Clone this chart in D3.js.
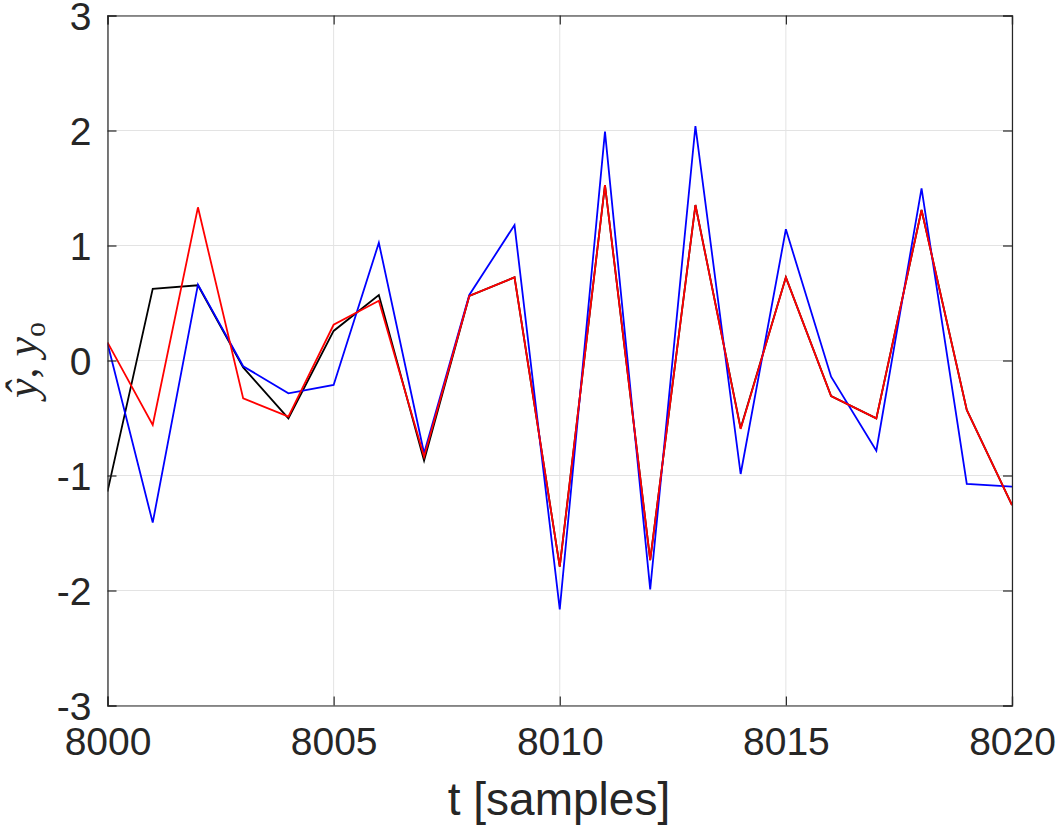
<!DOCTYPE html>
<html><head><meta charset="utf-8">
<script src="https://cdn.jsdelivr.net/npm/d3@7"></script>
<style>body{margin:0;background:#fff}svg{display:block}</style>
</head><body>
<svg id="chart" width="1057" height="825"></svg>
<script>
const tValues = d3.range(8000, 8021);
const yBlack = [-1.14, 0.624, 0.654, -0.06, -0.503, 0.257, 0.57, -0.87, 0.561, 0.723, -1.793, 1.526, -1.735, 1.352, -0.59, 0.723, -0.309, -0.503, 1.309, -0.43, -1.257];
const yBlue  = [0.15, -1.41, 0.66, -0.05, -0.285, -0.213, 1.024, -0.807, 0.57, 1.178, -2.164, 1.99, -1.99, 2.039, -0.987, 1.141, -0.141, -0.784, 1.497, -1.074, -1.097];
const yRed   = [0.158, -0.561, 1.332, -0.329, -0.488, 0.311, 0.52, -0.836, 0.561, 0.723, -1.793, 1.526, -1.735, 1.352, -0.595, 0.723, -0.309, -0.503, 1.309, -0.43, -1.257];
const xTicks = [8000, 8005, 8010, 8015, 8020];
const yTicks = [-3, -2, -1, 0, 1, 2, 3];

const svg = d3.select('#chart');
const L = 107.5, R = 1012, T = 15.5, B = 705.5;
const x = d3.scaleLinear().domain([8000, 8020]).range([L, R]);
const y = d3.scaleLinear().domain([-3, 3]).range([B, T]);

// grid
const g = svg.append('g');
g.selectAll('.gx').data(xTicks).join('line')
  .attr('x1', d => x(d)).attr('x2', d => x(d)).attr('y1', T).attr('y2', B)
  .attr('stroke', '#e3e3e3').attr('stroke-width', 1);
g.selectAll('.gy').data(yTicks).join('line')
  .attr('y1', d => y(d)).attr('y2', d => y(d)).attr('x1', L).attr('x2', R)
  .attr('stroke', '#e3e3e3').attr('stroke-width', 1);

// lines
const line = d3.line().x((d, i) => x(tValues[i])).y(d => y(d));
svg.append('clipPath').attr('id', 'clip').append('rect')
  .attr('x', L).attr('y', T).attr('width', R - L).attr('height', B - T);
const lg = svg.append('g').attr('clip-path', 'url(#clip)');
[[yBlack, '#000000'], [yBlue, '#0000ff'], [yRed, '#ff0000']].forEach(([arr, c]) => {
  lg.append('path').datum(arr).attr('d', line).attr('fill', 'none')
    .attr('stroke', c).attr('stroke-width', 1.8).attr('stroke-linejoin', 'miter');
});

// axes (ticks inward)
const tickLen = 9;
const fmt = d => String(d);
const axB = svg.append('g').attr('transform', `translate(0,${B})`)
  .call(d3.axisBottom(x).tickValues(xTicks).tickSize(-tickLen).tickPadding(22).tickFormat(fmt));
const axT = svg.append('g').attr('transform', `translate(0,${T})`)
  .call(d3.axisTop(x).tickValues(xTicks).tickSize(-tickLen).tickFormat(''));
const axL = svg.append('g').attr('transform', `translate(${L},0)`)
  .call(d3.axisLeft(y).tickValues(yTicks).tickSize(-tickLen).tickPadding(16).tickFormat(fmt));
const axR = svg.append('g').attr('transform', `translate(${R},0)`)
  .call(d3.axisRight(y).tickValues(yTicks).tickSize(-tickLen).tickFormat(''));
[axB, axT, axL, axR].forEach(a => {
  a.select('.domain').attr('stroke', '#262626').attr('stroke-width', 1.2);
  a.selectAll('.tick line').attr('stroke', '#262626').attr('stroke-width', 1.2);
  a.selectAll('text').attr('fill', '#262626')
    .style('font-family', '"Liberation Sans", Arial, sans-serif').style('font-size', '39px');
});
axB.selectAll('text').attr('dy', '0.71em');
axL.selectAll('text').attr('dy', '0.35em');

// labels
svg.append('text').attr('x', 559).attr('y', 815).attr('text-anchor', 'middle')
  .attr('fill', '#262626').style('font-family', '"Liberation Sans", Arial, sans-serif')
  .style('font-size', '46px').text('t [samples]');

const yl = svg.append('text').attr('transform', 'translate(37,360) rotate(-90)')
  .attr('text-anchor', 'middle').attr('fill', '#262626')
  .style('font-family', '"Liberation Serif", "DejaVu Serif", serif').style('font-size', '44px');
yl.append('tspan').style('font-style', 'italic').text('ŷ');
yl.append('tspan').text(', ');
yl.append('tspan').style('font-style', 'italic').text('y');
yl.append('tspan').attr('dy', '0.25em').style('font-size', '30px').text('o');
</script>
</body></html>
